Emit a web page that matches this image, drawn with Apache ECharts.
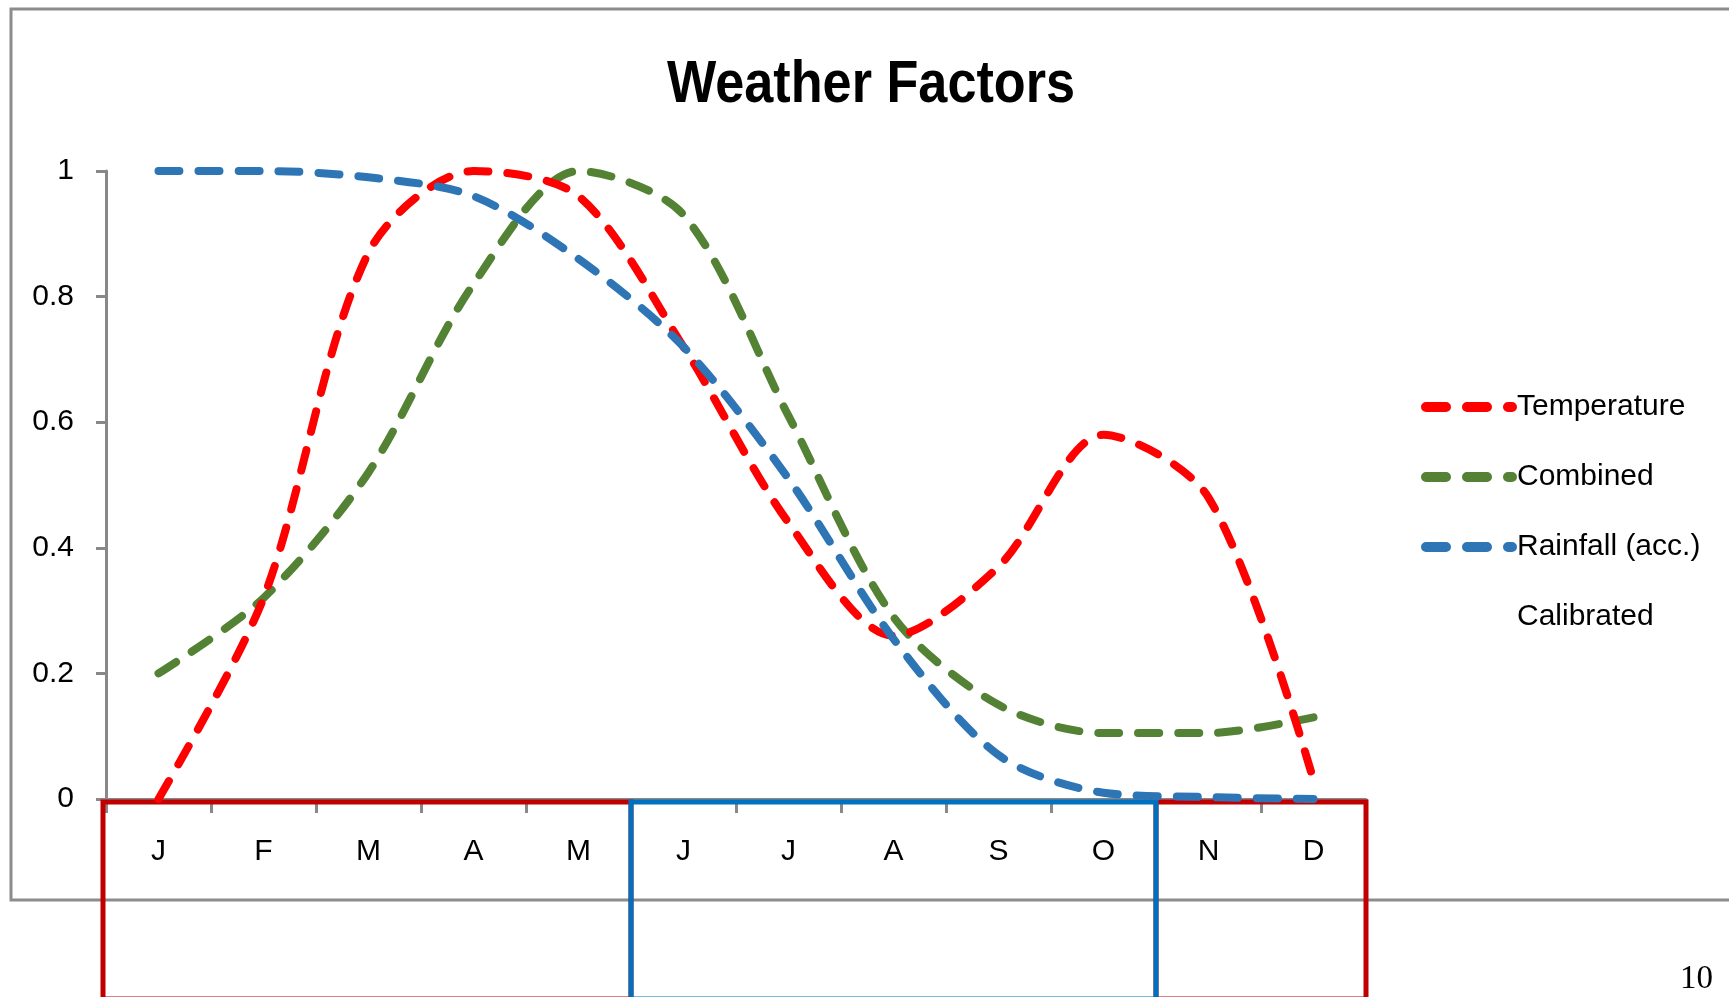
<!DOCTYPE html>
<html>
<head>
<meta charset="utf-8">
<title>Weather Factors</title>
<script src="https://cdn.jsdelivr.net/npm/echarts@6/dist/echarts.min.js"></script>
<style>
  html, body { margin: 0; padding: 0; background: #ffffff; }
  #chart { width: 1729px; height: 997px; }
</style>
</head>
<body>
<div id="chart"></div>
<script>
// Month initials along the x axis
const months = ['J', 'F', 'M', 'A', 'M', 'J', 'J', 'A', 'S', 'O', 'N', 'D'];

// Normalised monthly factors (0..1)
const temperature = [0.00, 0.32, 0.87, 1.00, 0.96, 0.72, 0.44, 0.26, 0.37, 0.58, 0.48, 0.03];
const combined    = [0.20, 0.32, 0.52, 0.82, 1.00, 0.93, 0.61, 0.29, 0.15, 0.105, 0.105, 0.13];
const rainfall    = [1.00, 1.00, 0.99, 0.96, 0.86, 0.72, 0.51, 0.255, 0.07, 0.01, 0.003, 0.00];

// Y axis range and step
const yMin = 0;
const yMax = 1;
const yStep = 0.2;

// Seasonal blocks under the axis: first and last month index of each
const seasonStart = [0, 5, 10];
const seasonEnd   = [4, 9, 11];
const seasonColors = ['#C00000', '#0070C0', '#C00000'];

const FONT = '"Liberation Sans", Arial, sans-serif';
const dash = [21, 19];
const legendDash = [20, 21];

function lineSeries(name, data, color) {
  return {
    name: name,
    type: 'line',
    data: data,
    smooth: 0.3,
    symbol: 'none',
    z: 3,
    lineStyle: { color: color, width: 8, type: dash, cap: 'round', join: 'round' },
    itemStyle: { color: color },
    emphasis: { disabled: true }
  };
}

const legendCommon = {
  orient: 'vertical',
  left: 1421,
  padding: 0,
  itemGap: 0,
  itemWidth: 86,
  itemHeight: 12,
  selectedMode: false,
  lineStyle: { width: 10, type: legendDash, cap: 'round' }
};

const chart = echarts.init(document.getElementById('chart'), null, { renderer: 'canvas' });

chart.setOption({
  backgroundColor: '#ffffff',
  animation: false,
  legend: [
    Object.assign({}, legendCommon, {
      data: ['Temperature', 'Combined'],
      top: 372,
      textStyle: { fontFamily: FONT, fontSize: 30, color: '#000000', lineHeight: 70 }
    }),
    Object.assign({}, legendCommon, {
      data: ['Rainfall (acc.) Calibrated'],
      top: 442,
      // blank leading line keeps the first text line level with the icon
      formatter: function (name) {
        const parts = name.split(') ');
        return '{p| }\n{t|' + parts[0] + ')}\n{t|' + parts[1] + '}';
      },
      textStyle: {
        fontFamily: FONT, fontSize: 30, color: '#000000', lineHeight: 70,
        rich: {
          p: { fontFamily: FONT, fontSize: 30, lineHeight: 70, height: 70 },
          t: { fontFamily: FONT, fontSize: 30, color: '#000000', lineHeight: 70 }
        }
      }
    })
  ],
  grid: { left: 106, right: 363, top: 171, bottom: 198, containLabel: false },
  xAxis: {
    type: 'category',
    data: months,
    boundaryGap: true,
    axisLine: { lineStyle: { color: '#888888', width: 3 } },
    axisTick: { show: true, inside: false, length: 14, alignWithLabel: false, lineStyle: { color: '#888888', width: 3 } },
    axisLabel: { interval: 0, margin: 38, fontFamily: FONT, fontSize: 30, color: '#000000' },
    splitLine: { show: false }
  },
  yAxis: {
    type: 'value',
    min: yMin,
    max: yMax,
    interval: yStep,
    axisLine: { show: true, lineStyle: { color: '#888888', width: 3 } },
    axisTick: { show: true, inside: false, length: 10, lineStyle: { color: '#888888', width: 3 } },
    axisLabel: { margin: 32, fontFamily: FONT, fontSize: 30, color: '#000000' },
    splitLine: { show: false }
  },
  graphic: [
    {
      type: 'rect',
      silent: true,
      z: -1,
      shape: { x: 11, y: 9, width: 1740, height: 891 },
      style: { fill: 'none', stroke: '#8c8c8c', lineWidth: 3 }
    },
    {
      // chart title, set in a condensed bold face
      type: 'text',
      silent: true,
      x: 871,
      y: 85,
      scaleX: 0.87,
      style: {
        text: 'Weather Factors',
        x: 0,
        y: 0,
        align: 'center',
        verticalAlign: 'middle',
        font: 'bold 60px "Liberation Sans", Arial, sans-serif',
        fill: '#000000'
      }
    },
    {
      type: 'text',
      silent: true,
      style: {
        text: '10',
        x: 1680,
        y: 979,
        verticalAlign: 'middle',
        font: '33px "Liberation Serif", "Times New Roman", serif',
        fill: '#000000'
      }
    }
  ],
  series: [
    {
      name: 'seasons',
      type: 'custom',
      clip: false,
      silent: true,
      z: 1,
      data: seasonStart.map(function (s, i) { return [s, yMin, seasonEnd[i]]; }),
      renderItem: function (params, api) {
        const half = api.size([1, 0])[0] / 2;
        const a = api.coord([api.value(0), yMin]);
        const b = api.coord([api.value(2), yMin]);
        const x0 = a[0] - half - (params.dataIndex === 0 ? 3 : 0);
        const x1 = b[0] + half;
        const y0 = a[1] + 3;
        const y1 = api.getHeight() + 2;
        const color = seasonColors[params.dataIndex];
        return {
          type: 'rect',
          z2: color === '#0070C0' ? 2 : 1,
          shape: { x: x0, y: y0, width: x1 - x0, height: y1 - y0 },
          style: { fill: 'none', stroke: color, lineWidth: 5 }
        };
      }
    },
    lineSeries('Combined', combined, '#548235'),
    lineSeries('Temperature', temperature, '#FF0000'),
    lineSeries('Rainfall (acc.) Calibrated', rainfall, '#2E75B6')
  ]
});
</script>
</body>
</html>
